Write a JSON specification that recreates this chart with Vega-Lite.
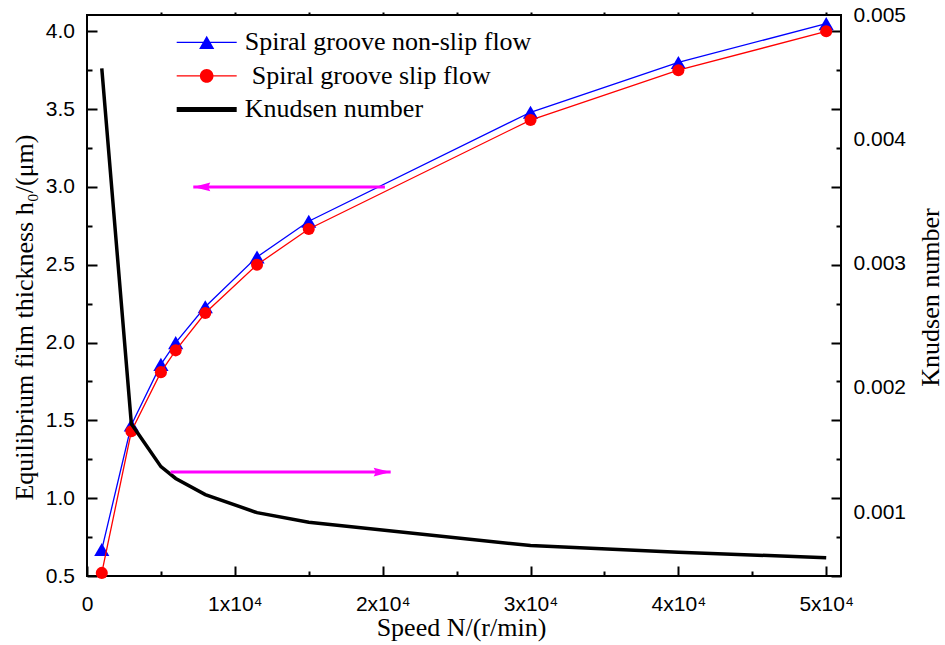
{
  "$schema": "https://vega.github.io/schema/vega-lite/v6.json",
  "width": 754,
  "height": 561,
  "autosize": "none",
  "padding": {"left": 87, "top": 15, "right": 104, "bottom": 69},
  "background": "white",
  "config": {
    "view": {"stroke": "black", "strokeWidth": 2},
    "axis": {
      "grid": false, "domain": false,
      "labelFlush": false, "labelOverlap": false, "labelBound": false,
      "tickColor": "black", "tickWidth": 2,
      "labelColor": "black", "labelFont": "Liberation Sans", "labelFontSize": 21,
      "titleFont": "Liberation Serif", "titleFontSize": 26, "titleFontWeight": "normal", "titleColor": "black"
    }
  },
  "datasets": {
    "curves": [
      {"speed": 1000, "series": "Spiral groove non-slip flow", "value": 0.67},
      {"speed": 3000, "series": "Spiral groove non-slip flow", "value": 1.47},
      {"speed": 5000, "series": "Spiral groove non-slip flow", "value": 1.86},
      {"speed": 6000, "series": "Spiral groove non-slip flow", "value": 2.0},
      {"speed": 8000, "series": "Spiral groove non-slip flow", "value": 2.23},
      {"speed": 11500, "series": "Spiral groove non-slip flow", "value": 2.55},
      {"speed": 15000, "series": "Spiral groove non-slip flow", "value": 2.78},
      {"speed": 30000, "series": "Spiral groove non-slip flow", "value": 3.48},
      {"speed": 40000, "series": "Spiral groove non-slip flow", "value": 3.8},
      {"speed": 50000, "series": "Spiral groove non-slip flow", "value": 4.05},
      {"speed": 1000, "series": "Spiral groove slip flow", "value": 0.52},
      {"speed": 3000, "series": "Spiral groove slip flow", "value": 1.43},
      {"speed": 5000, "series": "Spiral groove slip flow", "value": 1.81},
      {"speed": 6000, "series": "Spiral groove slip flow", "value": 1.95},
      {"speed": 8000, "series": "Spiral groove slip flow", "value": 2.19},
      {"speed": 11500, "series": "Spiral groove slip flow", "value": 2.5},
      {"speed": 15000, "series": "Spiral groove slip flow", "value": 2.73},
      {"speed": 30000, "series": "Spiral groove slip flow", "value": 3.43},
      {"speed": 40000, "series": "Spiral groove slip flow", "value": 3.75},
      {"speed": 50000, "series": "Spiral groove slip flow", "value": 4.0},
      {"speed": 1000, "series": "Knudsen number", "value": 0.00457},
      {"speed": 3000, "series": "Knudsen number", "value": 0.00171},
      {"speed": 5000, "series": "Knudsen number", "value": 0.001365},
      {"speed": 6000, "series": "Knudsen number", "value": 0.00127},
      {"speed": 8000, "series": "Knudsen number", "value": 0.00114},
      {"speed": 11500, "series": "Knudsen number", "value": 0.000995},
      {"speed": 15000, "series": "Knudsen number", "value": 0.000917},
      {"speed": 30000, "series": "Knudsen number", "value": 0.00073},
      {"speed": 40000, "series": "Knudsen number", "value": 0.000676},
      {"speed": 50000, "series": "Knudsen number", "value": 0.000632}
    ],
    "arrows": [
      {"dir": "left", "x_tail": 20150, "x_tip": 7190, "h": 3.0},
      {"dir": "right", "x_tail": 5650, "x_tip": 20540, "h": 1.168}
    ]
  },
  "resolve": {"scale": {"y": "independent"}, "axis": {"x": "independent", "y": "independent"}},
  "layer": [
    {
      "data": {"name": "curves"},
      "transform": [{"filter": "datum.series == 'Spiral groove non-slip flow'"}],
      "mark": {"type": "line", "color": "#0000FF", "strokeWidth": 1.3},
      "encoding": {
        "x": {"field": "speed", "type": "quantitative", "scale": {"domain": [0, 51000], "nice": false, "zero": false},
          "axis": {"orient": "bottom", "values": [0, 10000, 20000, 30000, 40000, 50000],
            "labelExpr": "datum.value == 0 ? '0' : format(datum.value / 10000, 'd') + 'x10⁴'",
            "ticks": false, "labelPadding": 17.5,
            "title": "Speed N/(r/min)", "titleX": 374, "titleY": 59, "titleAlign": "center", "titleBaseline": "alphabetic", "titleAngle": 0}},
        "y": {"field": "value", "type": "quantitative", "scale": {"domain": [0.5, 4.105], "nice": false, "zero": false},
          "axis": {"orient": "left", "values": [0.5, 1, 1.5, 2, 2.5, 3, 3.5, 4], "format": ".1f",
            "ticks": false, "labelPadding": 12.5,
            "title": "Equilibrium film thickness h₀/(μm)", "titleX": -55, "titleY": 302, "titleAngle": -90, "titleAlign": "center", "titleBaseline": "alphabetic"}}
      }
    },
    {
      "data": {"name": "curves"},
      "transform": [{"filter": "datum.series == 'Spiral groove non-slip flow'"}],
      "mark": {"type": "point", "shape": "triangle-up", "filled": true, "opacity": 1, "color": "#0000FF", "size": 230},
      "encoding": {
        "x": {"field": "speed", "type": "quantitative", "scale": {"domain": [0, 51000], "nice": false, "zero": false},
          "axis": {"orient": "top", "offset": -561, "values": [0, 10000, 20000, 30000, 40000, 50000], "tickSize": 10, "labels": false, "title": null}},
        "y": {"field": "value", "type": "quantitative", "scale": {"domain": [0.5, 4.105], "nice": false, "zero": false},
          "axis": {"orient": "right", "offset": -754, "values": [0.5, 1, 1.5, 2, 2.5, 3, 3.5, 4], "tickSize": 10, "labels": false, "title": null}}
      }
    },
    {
      "data": {"name": "curves"},
      "transform": [{"filter": "datum.series == 'Spiral groove slip flow'"}],
      "mark": {"type": "line", "color": "#FF0000", "strokeWidth": 1.3},
      "encoding": {
        "x": {"field": "speed", "type": "quantitative", "scale": {"domain": [0, 51000], "nice": false, "zero": false},
          "axis": {"orient": "top", "offset": -561, "values": [5000, 15000, 25000, 35000, 45000], "tickSize": 5, "labels": false, "title": null}},
        "y": {"field": "value", "type": "quantitative", "scale": {"domain": [0.5, 4.105], "nice": false, "zero": false},
          "axis": {"orient": "right", "offset": -754, "values": [0.75, 1.25, 1.75, 2.25, 2.75, 3.25, 3.75], "tickSize": 5, "labels": false, "title": null}}
      }
    },
    {
      "data": {"name": "curves"},
      "transform": [{"filter": "datum.series == 'Spiral groove slip flow'"}],
      "mark": {"type": "point", "shape": "circle", "filled": true, "opacity": 1, "color": "#FF0000", "size": 145},
      "encoding": {
        "x": {"field": "speed", "type": "quantitative", "scale": {"domain": [0, 51000], "nice": false, "zero": false},
          "axis": {"orient": "top", "values": [5000, 10000, 15000, 20000, 25000, 30000, 35000, 40000, 45000, 50000], "tickSize": 3, "labels": false, "title": null}},
        "y": {"field": "value", "type": "quantitative", "scale": {"domain": [0.5, 4.105], "nice": false, "zero": false},
          "axis": {"orient": "left", "offset": -754, "values": [0.5, 1, 1.5, 2, 2.5, 3, 3.5, 4], "tickSize": 10, "labels": false, "title": null}}
      }
    },
    {
      "data": {"name": "curves"},
      "transform": [{"filter": "datum.series == 'Knudsen number'"}],
      "mark": {"type": "line", "color": "#000000", "strokeWidth": 3.5},
      "encoding": {
        "x": {"field": "speed", "type": "quantitative", "scale": {"domain": [0, 51000], "nice": false, "zero": false}, "axis": null},
        "y": {"field": "value", "type": "quantitative", "scale": {"domain": [0.000485, 0.005], "nice": false, "zero": false},
          "axis": {"orient": "right", "values": [0.001, 0.002, 0.003, 0.004, 0.005], "format": ".3f",
            "ticks": false, "labelPadding": 12,
            "title": "Knudsen number", "titleX": 97, "titleY": 282, "titleAngle": -90, "titleAlign": "center", "titleBaseline": "alphabetic"}}
      }
    },
    {
      "data": {"name": "arrows"},
      "mark": {"type": "rule", "color": "#FF00FF", "strokeWidth": 3},
      "encoding": {
        "x": {"field": "x_tail", "type": "quantitative", "scale": {"domain": [0, 51000], "nice": false, "zero": false}, "axis": null},
        "x2": {"field": "x_tip"},
        "y": {"field": "h", "type": "quantitative", "scale": {"domain": [0.5, 4.105], "nice": false, "zero": false},
          "axis": {"orient": "left", "offset": -754, "values": [0.75, 1.25, 1.75, 2.25, 2.75, 3.25, 3.75], "tickSize": 5, "labels": false, "title": null}}
      }
    },
    {
      "data": {"name": "arrows"},
      "transform": [{"filter": "datum.dir == 'left'"}],
      "mark": {"type": "point", "shape": "M0,0L2,-0.51L1.75,0L2,0.51Z", "filled": true, "opacity": 1, "color": "#FF00FF", "size": 289},
      "encoding": {
        "x": {"field": "x_tip", "type": "quantitative", "scale": {"domain": [0, 51000], "nice": false, "zero": false}, "axis": null},
        "y": {"field": "h", "type": "quantitative", "scale": {"domain": [0.5, 4.105], "nice": false, "zero": false}, "axis": null}
      }
    },
    {
      "data": {"name": "arrows"},
      "transform": [{"filter": "datum.dir == 'right'"}],
      "mark": {"type": "point", "shape": "M0,0L-2,-0.51L-1.75,0L-2,0.51Z", "filled": true, "opacity": 1, "color": "#FF00FF", "size": 289},
      "encoding": {
        "x": {"field": "x_tip", "type": "quantitative", "scale": {"domain": [0, 51000], "nice": false, "zero": false}, "axis": null},
        "y": {"field": "h", "type": "quantitative", "scale": {"domain": [0.5, 4.105], "nice": false, "zero": false}, "axis": null}
      }
    },
    {
      "data": {"name": "curves"},
      "mark": {"type": "point", "filled": true, "opacity": 0, "clip": true},
      "encoding": {
        "x": {"field": "speed", "type": "quantitative", "scale": {"domain": [0, 51000], "nice": false, "zero": false}, "axis": null},
        "y": {"field": "value", "type": "quantitative", "scale": {"domain": [0.5, 4.105], "nice": false, "zero": false}, "axis": null},
        "color": {"field": "series", "type": "nominal",
          "scale": {"domain": ["Spiral groove non-slip flow", "Spiral groove slip flow", "Knudsen number"], "range": ["#0000FF", "#FF0000", "#000000"]},
          "legend": {"title": null, "orient": "none", "legendX": 106.7, "legendY": 14.4, "symbolSize": 400, "symbolStrokeWidth": 0,
            "labelFont": "Liberation Serif", "labelFontSize": 26, "labelColor": "black", "labelOffset": 25, "labelLimit": 0, "padding": 0, "rowPadding": 7.5,
            "encode": {"symbols": {"update": {"opacity": {"value": 1}}},
                       "labels": {"update": {"dx": {"signal": "datum.value == 'Spiral groove slip flow' ? 7 : 0"}}}}}},
        "shape": {"field": "series", "type": "nominal",
          "scale": {"domain": ["Spiral groove non-slip flow", "Spiral groove slip flow", "Knudsen number"],
            "range": ["M-3,-0.066H3V0.066H-3Z M0,-0.657L0.758,0.657H-0.758Z", "M-3,-0.066H3V0.066H-3Z M0.68,0A0.68,0.68,0,1,1,-0.68,0A0.68,0.68,0,1,1,0.68,0Z", "M-3,-0.25H3V0.25H-3Z"]},
          "legend": {"title": null, "orient": "none", "legendX": 106.7, "legendY": 14.4, "symbolSize": 400, "symbolStrokeWidth": 0,
            "labelFont": "Liberation Serif", "labelFontSize": 26, "labelColor": "black", "labelOffset": 25, "labelLimit": 0, "padding": 0, "rowPadding": 7.5,
            "encode": {"symbols": {"update": {"opacity": {"value": 1}}},
                       "labels": {"update": {"dx": {"signal": "datum.value == 'Spiral groove slip flow' ? 7 : 0"}}}}}}
      }
    }
  ]
}
